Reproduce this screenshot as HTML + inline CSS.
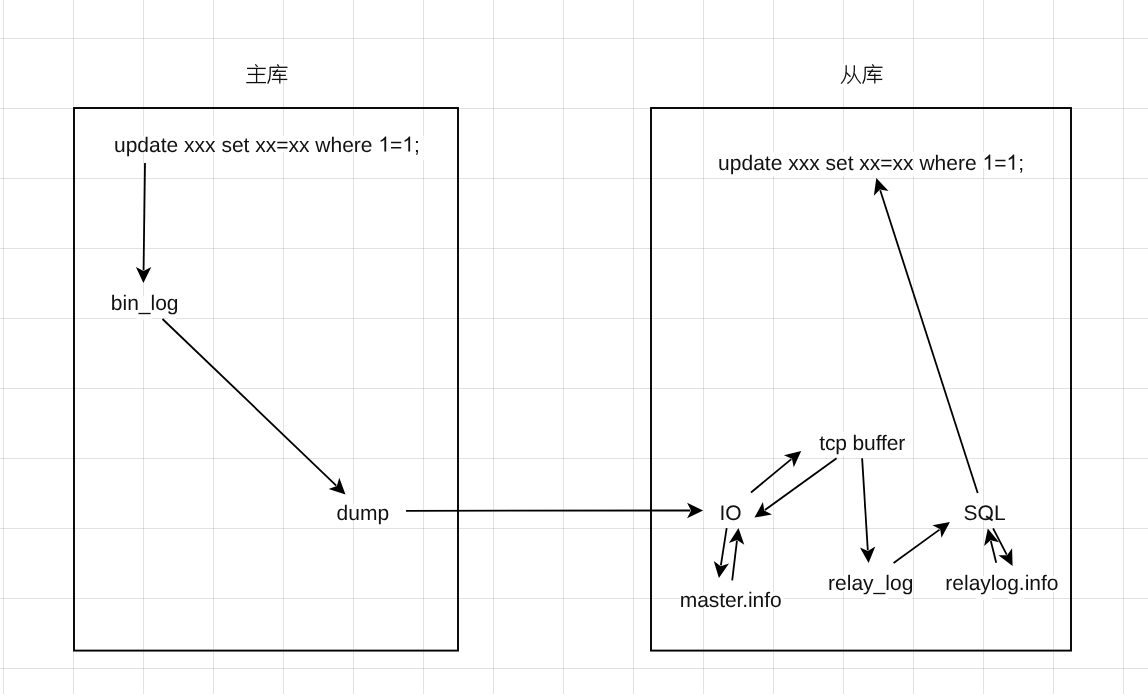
<!DOCTYPE html>
<html><head><meta charset="utf-8"><style>
html,body{margin:0;padding:0;background:#fff;}
svg{display:block;will-change:transform;}
text{font-family:"Liberation Sans",sans-serif;font-size:21px;fill:#111;text-rendering:geometricPrecision;}
</style></head><body>
<svg width="1148" height="694" viewBox="0 0 1148 694">
<rect x="0" y="0" width="1148" height="694" fill="#fff"/>

<path d="M3.5 0V694M73.5 0V694M143.5 0V694M213.5 0V694M283.5 0V694M353.5 0V694M423.5 0V694M493.5 0V694M563.5 0V694M633.5 0V694M703.5 0V694M773.5 0V694M843.5 0V694M913.5 0V694M983.5 0V694M1053.5 0V694M1123.5 0V694" stroke="rgba(0,0,0,0.115)" stroke-width="1" fill="none"/>
<path d="M0 38.5H1148M0 108.5H1148M0 178.5H1148M0 248.5H1148M0 318.5H1148M0 388.5H1148M0 458.5H1148M0 528.5H1148M0 598.5H1148M0 668.5H1148" stroke="rgba(0,0,0,0.115)" stroke-width="1" fill="none"/>
<path fill="#fff" fill-opacity="0.8" d="M240 64h48v8h-48zM840 64h16v8h-16zM864 64h24v8h-24zM248 72h40v8h-40zM840 72h48v8h-48zM240 80h40v8h-40zM840 80h40v8h-40zM112 136h312v8h-312zM112 144h264v8h-264zM384 144h40v8h-40zM120 152h16v8h-16zM416 152h8v8h-8zM712 152h168v8h-168zM888 152h88v8h-88zM984 152h8v8h-8zM1008 152h16v8h-16zM712 160h200v8h-200zM920 160h56v8h-56zM984 160h40v8h-40zM720 168h160v8h-160zM888 168h88v8h-88zM984 168h8v8h-8zM1008 168h16v8h-16zM112 288h16v8h-16zM152 288h8v8h-8zM112 296h32v8h-32zM152 296h32v8h-32zM112 304h32v8h-32zM152 304h32v8h-32zM136 312h16v8h-16zM168 312h8v8h-8zM816 432h96v8h-96zM816 440h88v8h-88zM816 448h88v8h-88zM336 504h56v8h-56zM720 504h24v8h-24zM960 504h40v8h-40zM336 512h56v8h-56zM720 512h24v8h-24zM960 512h48v8h-48zM376 520h8v8h-8zM984 520h8v8h-8zM848 568h8v8h-8zM880 568h8v8h-8zM960 568h8v8h-8zM992 568h8v8h-8zM1024 568h8v8h-8zM1040 568h8v8h-8zM824 576h88v8h-88zM944 576h120v8h-120zM824 584h48v8h-48zM880 584h32v8h-32zM944 584h120v8h-120zM680 592h104v8h-104zM864 592h24v8h-24zM904 592h8v8h-8zM976 592h16v8h-16zM1008 592h16v8h-16zM680 600h104v8h-104zM976 152h8v16h-8z"/>
<rect x="74" y="108" width="384" height="542.6" fill="none" stroke="#000" stroke-width="1.9"/>
<rect x="651" y="108" width="420" height="542.6" fill="none" stroke="#000" stroke-width="1.9"/>
<text x="114.0" y="151.6" letter-spacing="0">update xxx set xx=xx where <tspan fill="transparent">1</tspan>=<tspan fill="transparent">1</tspan>;</text>
<text x="718.1" y="169.7" letter-spacing="0">update xxx set xx=xx where <tspan fill="transparent">1</tspan>=<tspan fill="transparent">1</tspan>;</text>
<text x="110.8" y="309.6" letter-spacing="0">bin_log</text>
<text x="336.6" y="519.6" letter-spacing="0">dump</text>
<text x="719.5" y="519.6" letter-spacing="0">IO</text>
<text x="819.3" y="450.0" letter-spacing="-0.14">tcp buffer</text>
<text x="963.6" y="519.8" letter-spacing="0">SOL</text>
<text x="945.3" y="590.0" letter-spacing="0">relaylog.info</text>
<text x="679.8" y="606.5" letter-spacing="-0.09">master.info</text>
<text x="828.1" y="590.0" letter-spacing="0">relay_log</text>
<path fill="#111" transform="translate(378.375,151.6) scale(0.0102539,-0.0102539)" d="M763 0H583V1147Q518 1085 412.5 1023Q307 961 223 930V1104Q374 1175 487 1276Q600 1377 647 1472H763Z"/>
<path fill="#111" transform="translate(402.3125,151.6) scale(0.0102539,-0.0102539)" d="M763 0H583V1147Q518 1085 412.5 1023Q307 961 223 930V1104Q374 1175 487 1276Q600 1377 647 1472H763Z"/>
<path fill="#111" transform="translate(982.475,169.7) scale(0.0102539,-0.0102539)" d="M763 0H583V1147Q518 1085 412.5 1023Q307 961 223 930V1104Q374 1175 487 1276Q600 1377 647 1472H763Z"/>
<path fill="#111" transform="translate(1006.4125,169.7) scale(0.0102539,-0.0102539)" d="M763 0H583V1147Q518 1085 412.5 1023Q307 961 223 930V1104Q374 1175 487 1276Q600 1377 647 1472H763Z"/>
<path d="M986.0 516.2L992.6 520.4" stroke="#111" stroke-width="1.9" fill="none"/>
<path d="M145.00 163.00L143.57 270.20" stroke="#000" stroke-width="1.8" fill="none"/><path d="M143.40 283.00L135.91 266.90L143.56 271.00L151.31 267.10Z" fill="#000"/>
<path d="M162.50 319.00L336.26 485.54" stroke="#000" stroke-width="1.8" fill="none"/><path d="M345.50 494.40L328.62 488.89L336.84 486.10L339.28 477.77Z" fill="#000"/>
<path d="M406.00 510.80L690.30 510.51" stroke="#000" stroke-width="1.8" fill="none"/><path d="M703.10 510.50L687.11 518.22L691.10 510.51L687.09 502.82Z" fill="#000"/>
<path d="M751.00 492.50L791.33 459.16" stroke="#000" stroke-width="1.8" fill="none"/><path d="M801.20 451.00L793.77 467.13L791.95 458.65L783.96 455.26Z" fill="#000"/>
<path d="M836.60 458.20L764.87 510.10" stroke="#000" stroke-width="1.8" fill="none"/><path d="M754.50 517.60L762.95 501.98L764.22 510.57L771.98 514.46Z" fill="#000"/>
<path d="M862.10 458.20L867.81 550.22" stroke="#000" stroke-width="1.8" fill="none"/><path d="M868.60 563.00L859.92 547.51L867.86 551.02L875.29 546.55Z" fill="#000"/>
<path d="M893.60 563.00L939.54 529.62" stroke="#000" stroke-width="1.8" fill="none"/><path d="M949.90 522.10L941.48 537.73L940.19 529.15L932.43 525.27Z" fill="#000"/>
<path d="M977.70 493.00L880.22 190.28" stroke="#000" stroke-width="1.8" fill="none"/><path d="M876.30 178.10L888.53 190.97L879.98 189.52L873.87 195.69Z" fill="#000"/>
<path d="M726.70 528.20L720.88 565.45" stroke="#000" stroke-width="1.8" fill="none"/><path d="M718.90 578.10L713.76 561.10L720.75 566.24L728.98 563.48Z" fill="#000"/>
<path d="M732.20 580.40L736.97 540.71" stroke="#000" stroke-width="1.8" fill="none"/><path d="M738.50 528.00L744.24 544.80L737.07 539.91L728.95 542.97Z" fill="#000"/>
<path d="M996.20 562.80L990.85 541.03" stroke="#000" stroke-width="1.8" fill="none"/><path d="M987.80 528.60L999.09 542.30L990.66 540.25L984.14 545.97Z" fill="#000"/>
<path d="M993.10 528.30L1006.72 554.63" stroke="#000" stroke-width="1.8" fill="none"/><path d="M1012.60 566.00L998.41 555.33L1007.09 555.34L1012.09 548.25Z" fill="#000"/>
<g transform="translate(0,0)" stroke="#111" stroke-width="1.3" fill="none" stroke-linecap="butt" stroke-linejoin="round">
<path d="M255.3 64.4L257.6 66.9"/>
<path d="M247.0 68.4H265.8"/>
<path d="M248.0 74.4H264.7"/>
<path d="M256.6 68.4V82.6"/>
<path d="M246.3 82.6H266.0"/>
</g>
<g transform="translate(0,0)" stroke="#111" stroke-width="1.3" fill="none" stroke-linecap="butt" stroke-linejoin="round">
<path d="M277.3 64.4L279.0 66.7"/>
<path d="M269.8 67.3H287.5"/>
<path d="M270.2 67.3V74Q270.1 80 267.7 83.6"/>
<path d="M272.3 71.3H285.9"/>
<path d="M277.7 69.4L273.5 75.3H285.9"/>
<path d="M279.8 73.4V83.6"/>
<path d="M271.8 79.4H287.3"/>
</g>
<g stroke="#111" stroke-width="1.3" fill="none" stroke-linecap="butt" stroke-linejoin="round">
<path d="M846.2 65.2V71Q846.0 79 841.1 83.6"/>
<path d="M846.2 72.5L850.5 76.7"/>
<path d="M854.3 65.2V71Q854.0 79 847.4 83.6"/>
<path d="M854.3 73.4Q856.5 79.5 860.8 83.6"/>
</g>
<g transform="translate(595,0)" stroke="#111" stroke-width="1.3" fill="none" stroke-linecap="butt" stroke-linejoin="round">
<path d="M277.3 64.4L279.0 66.7"/>
<path d="M269.8 67.3H287.5"/>
<path d="M270.2 67.3V74Q270.1 80 267.7 83.6"/>
<path d="M272.3 71.3H285.9"/>
<path d="M277.7 69.4L273.5 75.3H285.9"/>
<path d="M279.8 73.4V83.6"/>
<path d="M271.8 79.4H287.3"/>
</g>
</svg></body></html>
